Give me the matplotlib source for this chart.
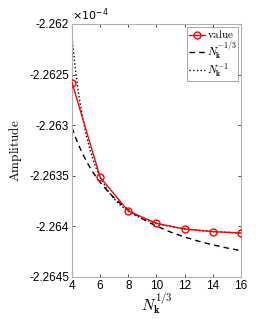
import matplotlib
matplotlib.use('Agg')
import matplotlib.pyplot as plt
from matplotlib.ticker import FuncFormatter

plt.rcParams['mathtext.fontset'] = 'cm'
plt.rcParams['font.family'] = ['Liberation Sans', 'DejaVu Sans']

# datos
n_cubo = [4, 6, 8, 10, 12, 14, 16]
valor = [-2.26258e-4, -2.263515e-4, -2.263848e-4, -2.26397e-4,
         -2.264026e-4, -2.264052e-4, -2.264065e-4]

n_ajuste = [4, 4.25, 4.5, 4.75, 5, 5.25, 5.5, 5.75, 6, 6.5, 7, 7.5, 8,
            8.5, 9, 9.5, 10, 11, 12, 13, 14, 15, 16]
ajuste_tercio = [-2.263025e-4, -2.263120e-4, -2.263205e-4, -2.263281e-4,
                 -2.263349e-4, -2.263411e-4, -2.263467e-4, -2.263518e-4,
                 -2.263565e-4, -2.263648e-4, -2.263719e-4, -2.263781e-4,
                 -2.263835e-4, -2.263883e-4, -2.263925e-4, -2.263963e-4,
                 -2.263997e-4, -2.264056e-4, -2.264105e-4, -2.264147e-4,
                 -2.264182e-4, -2.264213e-4, -2.264240e-4]
ajuste_uno = [-2.262135e-4, -2.262462e-4, -2.262719e-4, -2.262924e-4,
              -2.263092e-4, -2.263228e-4, -2.263342e-4, -2.263436e-4,
              -2.263515e-4, -2.263639e-4, -2.263730e-4, -2.263799e-4,
              -2.263851e-4, -2.263891e-4, -2.263924e-4, -2.263950e-4,
              -2.263971e-4, -2.264002e-4, -2.264023e-4, -2.264039e-4,
              -2.264050e-4, -2.264059e-4, -2.264065e-4]

fig = plt.figure(figsize=(2.66, 3.19), dpi=100)
ax = fig.add_axes([0.2707, 0.1317, 0.635, 0.7931])

ax.plot(n_cubo, valor, color='red', marker='o', markersize=5,
        markerfacecolor='none', markeredgewidth=1.0, linewidth=1.0,
        label=r'$\mathrm{value}$', zorder=3)
ax.plot(n_ajuste, ajuste_tercio, 'k--', linewidth=1.0, dashes=(4, 3),
        label=r'$N_{\mathbf{k}}^{-1/3}$')
ax.plot(n_ajuste, ajuste_uno, 'k:', linewidth=1.0,
        label=r'$N_{\mathbf{k}}^{-1}$')

ax.set_xlim(4, 16)
ax.set_ylim(-2.2645e-4, -2.262e-4)
ax.set_xticks(range(4, 17, 2))
ax.set_yticks([-2.2645e-4, -2.264e-4, -2.2635e-4, -2.263e-4, -2.2625e-4, -2.262e-4])
ax.yaxis.set_major_formatter(FuncFormatter(lambda v, p: f'{v * 1e4:g}'))
ax.tick_params(direction='in', top=True, right=True, labelsize=8.5,
               length=2.5, width=0.6, color='#262626', pad=2)
for s in ax.spines.values():
    s.set_color('#b0b0b0')
    s.set_linewidth(0.8)

ax.text(0.0, 1.003, r'$\times10^{-4}$', transform=ax.transAxes,
        fontsize=8, ha='left', va='bottom', math_fontfamily='dejavusans')

ax.set_xlabel(r'$N_{\mathbf{k}}^{1/3}$', fontsize=11, labelpad=0)
ax.set_ylabel(r'$\mathrm{Amplitude}$', fontsize=9.5, labelpad=4)

leg = ax.legend(loc='upper right', fontsize=8, handlelength=1.4,
                handletextpad=0.2, borderpad=0.15, labelspacing=0.02,
                borderaxespad=0.25, fancybox=False, framealpha=1)
leg.get_frame().set_edgecolor('#999999')
leg.get_frame().set_linewidth(0.6)

fig.savefig('out.png', dpi=100)
